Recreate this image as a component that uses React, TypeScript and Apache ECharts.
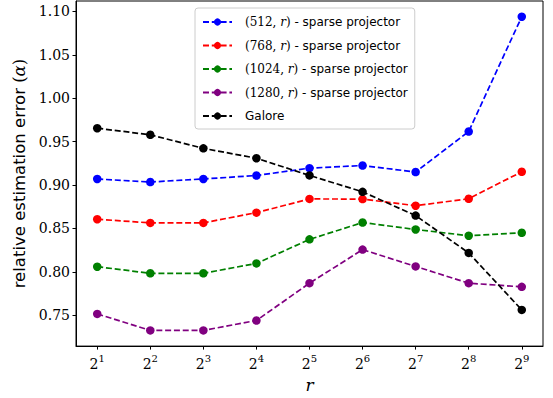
import React, { useEffect, useRef } from "react";
import * as echarts from "echarts";

const exponents = [1, 2, 3, 4, 5, 6, 7, 8, 9];
const yTicks = [0.75, 0.8, 0.85, 0.9, 0.95, 1.0, 1.05, 1.1];

const seriesNames = [
  "(512, r) - sparse projector",
  "(768, r) - sparse projector",
  "(1024, r) - sparse projector",
  "(1280, r) - sparse projector",
  "Galore",
];
const seriesColors = ["#0000ff", "#ff0000", "#008000", "#800080", "#000000"];

const sp512 = [0.907, 0.9035, 0.907, 0.911, 0.9195, 0.9225, 0.915, 0.9617, 1.094];
const sp768 = [0.8606, 0.8564, 0.8564, 0.8682, 0.884, 0.8838, 0.8762, 0.8842, 0.9153];
const sp1024 = [0.8059, 0.7983, 0.7983, 0.8097, 0.8374, 0.8568, 0.8488, 0.8416, 0.845];
const sp1280 = [0.7515, 0.7325, 0.7325, 0.7439, 0.7869, 0.8256, 0.8062, 0.7869, 0.7827];
const galore = [0.9655, 0.9579, 0.9423, 0.9309, 0.9111, 0.8922, 0.8648, 0.8218, 0.7561];

const allValues = [sp512, sp768, sp1024, sp1280, galore];

const legendRich: Record<string, string> = {
  "(512, r) - sparse projector": "{m0|(512, }{i|r}{m|)}{s| - sparse projector}",
  "(768, r) - sparse projector": "{m0|(768, }{i|r}{m|)}{s| - sparse projector}",
  "(1024, r) - sparse projector": "{m0|(1024, }{i|r}{m|)}{s| - sparse projector}",
  "(1280, r) - sparse projector": "{m0|(1280, }{i|r}{m|)}{s| - sparse projector}",
  Galore: "{s0|Galore}",
};

export default function App() {
  const ref = useRef<HTMLDivElement>(null);
  useEffect(() => {
    if (!ref.current) return;
    const chart = echarts.init(ref.current, null, { renderer: "svg" });
    const option: any = {
      animation: false,
      backgroundColor: "#ffffff",
      grid: {
        left: 76,
        right: 10,
        top: 1,
        bottom: 49,
        show: true,
        borderColor: "#000000",
        borderWidth: 1,
        backgroundColor: "transparent",
      },
      legend: {
        orient: "vertical",
        left: 195,
        top: 8,
        align: "left",
        itemWidth: 29,
        itemHeight: 9,
        itemGap: 9.5,
        padding: [7, 7, 6, 7],
        borderColor: "#cccccc",
        borderWidth: 1,
        borderRadius: 3,
        backgroundColor: "rgba(255,255,255,0.85)",
        data: seriesNames,
        formatter: (name: string) => legendRich[name] || name,
        textStyle: {
          fontSize: 12,
          lineHeight: 14,
          color: "#000",
          rich: {
            m0: { fontFamily: "DejaVu Serif", fontSize: 12, color: "#000", padding: [0, 0, 0, 8] },
            m: { fontFamily: "DejaVu Serif", fontSize: 12, color: "#000" },
            i: { fontFamily: "DejaVu Serif", fontStyle: "italic", fontSize: 12, color: "#000" },
            s: { fontFamily: "DejaVu Sans", fontSize: 12, color: "#000" },
            s0: { fontFamily: "DejaVu Sans", fontSize: 12, color: "#000", padding: [0, 0, 0, 8] },
          },
        },
      },
      xAxis: {
        type: "value",
        min: 0.6,
        max: 9.4,
        name: "r",
        nameLocation: "middle",
        nameGap: 27,
        nameTextStyle: {
          fontFamily: "DejaVu Serif",
          fontStyle: "italic",
          fontSize: 17,
          color: "#000",
        },
        axisLine: { show: true, lineStyle: { color: "#000", width: 1 } },
        axisTick: {
          show: true,
          length: 3.5,
          inside: false,
          customValues: exponents,
          lineStyle: { color: "#000", width: 1 },
        },
        axisLabel: {
          show: true,
          customValues: exponents,
          margin: 7,
          formatter: (v: number) => `{b|2}{s|${Math.round(v)}}`,
          rich: {
            b: { fontFamily: "DejaVu Serif", fontSize: 14, color: "#000", lineHeight: 18, verticalAlign: "bottom" },
            s: { fontFamily: "DejaVu Serif", fontSize: 10, color: "#000", lineHeight: 18, verticalAlign: "top", padding: [0, 0, 3, 0] },
          },
        },
        splitLine: { show: false },
      },
      yAxis: {
        type: "value",
        min: 0.7144,
        max: 1.1121,
        name: "relative estimation error {m|(}{i|α}{m|)}",
        nameLocation: "middle",
        nameGap: 44,
        nameTextStyle: {
          fontFamily: "DejaVu Sans",
          fontSize: 16.5,
          color: "#000",
          rich: {
            m: { fontFamily: "DejaVu Serif", fontSize: 16.5, color: "#000" },
            i: { fontFamily: "DejaVu Serif", fontStyle: "italic", fontSize: 16.5, color: "#000" },
          },
        },
        axisLine: { show: true, lineStyle: { color: "#000", width: 1 } },
        axisTick: {
          show: true,
          length: 3.5,
          inside: false,
          customValues: yTicks,
          lineStyle: { color: "#000", width: 1 },
        },
        axisLabel: {
          show: true,
          customValues: yTicks,
          margin: 6,
          fontFamily: "DejaVu Serif",
          fontSize: 14,
          color: "#000",
          formatter: (v: number) => v.toFixed(2),
        },
        splitLine: { show: false },
      },
      series: seriesNames.map((name, k) => ({
        name,
        type: "line",
        data: exponents.map((e, j) => [e, allValues[k][j]]),
        symbol: "circle",
        symbolSize: 8.5,
        showSymbol: true,
        color: seriesColors[k],
        itemStyle: { color: seriesColors[k] },
        lineStyle: { color: seriesColors[k], width: 1.7, type: [6, 2.8] },
        z: 2 + k,
      })),
    };
    chart.setOption(option);
    return () => chart.dispose();
  }, []);
  return (
    <div
      ref={ref}
      style={{ position: "absolute", left: 0, top: 0, width: 553, height: 398 }}
    />
  );
}
